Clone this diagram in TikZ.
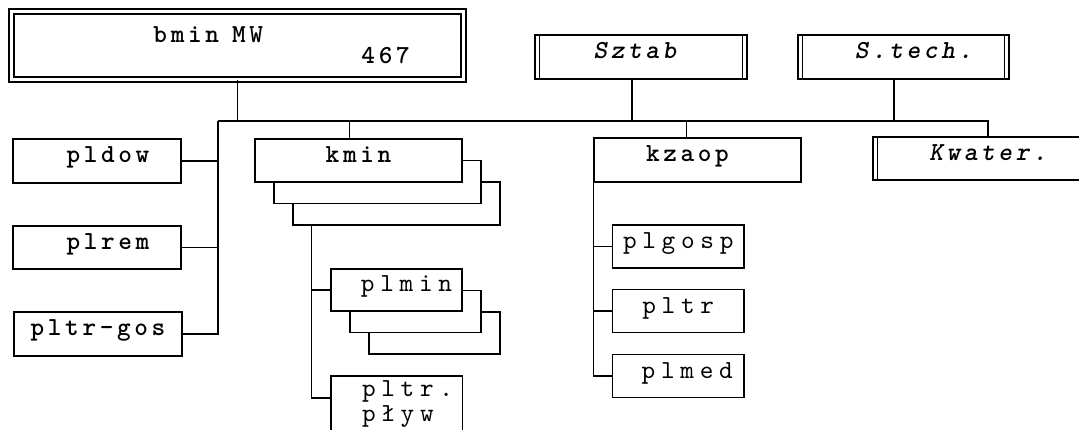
\documentclass[tikz,border=0pt]{standalone}
\usepackage{fontspec}
\newfontfamily\orgfont{lmmono10-regular}[Extension=.otf, BoldFont=lmmonolt10-bold, ItalicFont=lmmono10-italic, BoldItalicFont=lmmonolt10-boldoblique, LetterSpace=14]
\usetikzlibrary{positioning}

\begin{document}
\begin{tikzpicture}[x=1pt,y=-1pt]
	\tikzset{orgbox/.style={draw, line width=1.1pt, fill=white, inner sep=0pt, font=\orgfont\bfseries\fontsize{26}{21}\selectfont, text height=0.6em, text depth=0.2em},
		subbox/.style={orgbox, font=\orgfont\addfontfeature{LetterSpace=22}\fontsize{26}{18}\selectfont},
		staffbox/.style={orgbox, font=\orgfont\bfseries\itshape\fontsize{26}{21}\selectfont},
		wire/.style={line width=1.1pt}}
	\clip (0,0) rectangle (1079,430);

	% commander
	\draw (237.5,45.5) node [orgbox, double, double distance=3.9pt, minimum width=452pt, minimum height=68pt, text width=452pt, align=left, text height=, text depth=] (bmin) {\hspace*{142pt}bmin\hspace{0.5em}MW\\[0pt]\hspace*{350pt}467};

	% staff
	\draw (641,57) node [staffbox, minimum width=212pt, minimum height=44pt] (sztab) {\hspace*{-12pt}Sztab};
	\draw (903.5,57) node [staffbox, minimum width=211pt, minimum height=44pt] (stech) {\hspace*{20pt}S.tech.};
	\draw (988,158.5) node [staffbox, minimum width=230pt, minimum height=43pt] (kwater) {Kwater.};
	\foreach \s in {sztab,stech,kwater}{
		\draw [wire] ([xshift=5pt]\s.north west) -- ([xshift=5pt]\s.south west);
		\draw [wire] ([xshift=-5pt]\s.north east) -- ([xshift=-5pt]\s.south east);
	}

	% platoons
	\draw (97,161) node [orgbox, minimum width=168pt, minimum height=44pt] (pldow) {\hspace*{22pt}pldow};
	\draw (97,247.5) node [orgbox, minimum width=168pt, minimum height=43pt] (plrem) {\hspace*{22pt}plrem};
	\draw (98,334) node [orgbox, minimum width=168pt, minimum height=44pt] (pltrgos) {pltr-gos};

	% minesweeper company
	\draw (396.5,203.5) node [orgbox, minimum width=207pt, minimum height=43pt] (kminC) {};
	\draw (377.5,182) node [orgbox, minimum width=207pt, minimum height=43pt] (kminB) {};
	\draw (358.5,160.5) node [orgbox, minimum width=207pt, minimum height=43pt] (kmin) {kmin};

	\draw (434.5,333) node [subbox, minimum width=131pt, minimum height=42pt] (plminC) {};
	\draw (415.5,311.5) node [subbox, minimum width=131pt, minimum height=42pt] (plminB) {};
	\draw (396.5,290) node [subbox, minimum width=131pt, minimum height=42pt] (plmin) {\hspace*{20pt}plmin};
	\draw (396.75,404) node [subbox, minimum width=131.5pt, minimum height=56pt, text width=131.5pt, align=left, text height=, text depth=] (pltrplyw) {\hspace*{31pt}pltr.\\[2pt]\hspace*{31pt}pływ};

	% support company
	\draw (697.5,160) node [orgbox, minimum width=207pt, minimum height=44pt] (kzaop) {\hspace*{-20pt}kzaop};
	\draw (678.25,246.5) node [subbox, minimum width=131.5pt, minimum height=43pt] (plgosp) {plgosp};
	\draw (678.25,311) node [subbox, minimum width=131.5pt, minimum height=43pt] (pltr) {pltr};
	\draw (678.25,376) node [subbox, minimum width=131.5pt, minimum height=43pt] (plmed) {\hspace*{18pt}plmed};

	% main bus
	\coordinate (busL) at (218,121);
	\coordinate (busR) at (kwater.north |- busL);
	\draw [wire] (busL) -- (busR) -- (kwater.north);
	\draw [wire] (bmin.south) -- (bmin.south |- busL);
	\draw [wire] ([xshift=-9pt]sztab.south) -- ([xshift=-9pt]sztab.south |- busL);
	\draw [wire] ([xshift=-9.5pt]stech.south) -- ([xshift=-9.5pt]stech.south |- busL);
	\draw [wire] ([xshift=-9pt]kmin.north) -- ([xshift=-9pt]kmin.north |- busL);
	\draw [wire] ([xshift=-11pt]kzaop.north) -- ([xshift=-11pt]kzaop.north |- busL);

	\draw [wire] (busL) |- (pltrgos.east);
	\draw [wire] (pldow.east) -- (pldow.east -| busL);
	\draw [wire] (plrem.east) -- (plrem.east -| busL);

	\coordinate (kminDrop) at ([xshift=19pt]kminC.south west);
	\draw [wire] (kminDrop) |- ([yshift=6pt]pltrplyw.west);
	\draw [wire] (plmin.west) -- (plmin.west -| kminDrop);

	\draw [wire] (kzaop.south west) |- (plmed.west);
	\draw [wire] (plgosp.west) -- (plgosp.west -| kzaop.west);
	\draw [wire] (pltr.west) -- (pltr.west -| kzaop.west);
\end{tikzpicture}
\end{document}
